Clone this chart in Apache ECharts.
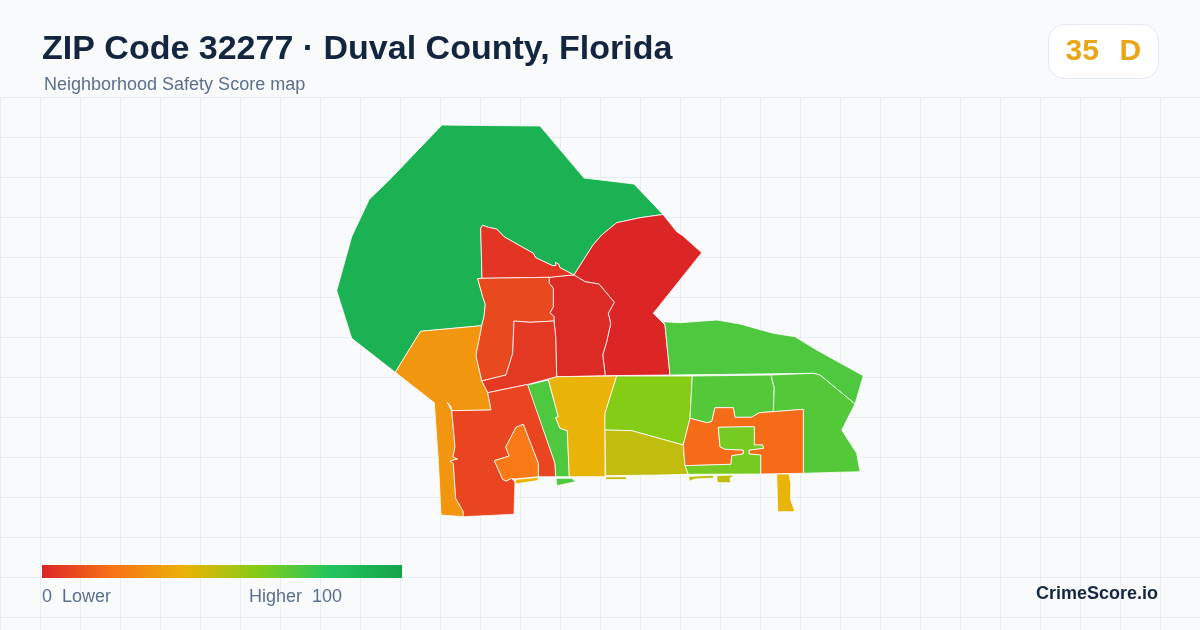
<!DOCTYPE html>
<html>
<head>
<meta charset="utf-8">
<title>ZIP Code 32277</title>
<script src="https://cdn.jsdelivr.net/npm/echarts@6/dist/echarts.min.js"></script>
<style>
html, body { margin: 0; padding: 0; background: #f8fafc; }
#main { width: 1200px; height: 630px; }
</style>
</head>
<body>
<div id="main"></div>
<script>
// score of each neighborhood
var regionNames = ['north', 'eastRed', 'midRed', 'triangle', 'westCore', 'innerRed', 'westOrange', 'southRed',
  'southOrange', 'sliverA', 'greenStrip', 'greenChip', 'yellowBlock', 'limeBlock', 'oliveBlock', 'sliverB', 'sliverC',
  'sliverD', 'eastBand', 'eastMid', 'eastRight', 'orangeRing', 'limeInner', 'yellowTail'];
var regionScores = [91, 0, 1, 4, 9, 5, 31, 8, 22, 40, 71, 71, 40, 60, 48, 48, 48, 48, 71, 70, 70, 18, 63, 40];

// outlines in map units, one ring per neighborhood
var regionRings = [
  [[442,125],[483,125.5],[540,126],[584,178],[634,184],[663,214.5],[640,217.7],[616.7,222.7],[601.7,235],[593,245],[574,275],[560,267.7],[558.5,264],[555.5,262.5],[556,265.5],[552.7,265.7],[535.7,257.7],[533.3,253.3],[504,236.7],[496.7,229],[488.3,227.3],[482.7,225.3],[480.7,228.3],[482,278.3],[477.7,278.7],[482.7,296.7],[485.3,304.3],[484,316.7],[481.7,325.7],[420.5,331.3],[395.3,372.3],[351.7,338.3],[336.7,290.7],[351.7,236.7],[369.3,199.3],[388.3,181]],
  [[663,214.5],[676.7,231.7],[682.7,235.7],[701.7,252.7],[653.3,313.3],[665,325],[670,375],[605.3,375.7],[602.7,355],[606.7,341.7],[610.7,323.3],[608.3,313.3],[614.3,302.3],[599,284],[585,281.7],[574,275],[593,245],[601.7,235],[616.7,222.7],[640,217.7]],
  [[549.3,277.3],[572,275],[574,275],[585,281.7],[599,284],[614.3,302.3],[608.3,313.3],[610.7,323.3],[606.7,341.7],[602.7,355],[605.3,375.7],[556.7,376.8],[555.7,336.7],[554,321],[554,316.7],[550,312.7],[553.3,306.7],[553.3,288.3],[549.3,283.3]],
  [[480.7,228.3],[482.7,225.3],[488.3,227.3],[496.7,229],[504,236.7],[533.3,253.3],[535.7,257.7],[552.7,265.7],[556,265.5],[555.5,262.5],[558.5,264],[560,267.7],[574,275],[572,275],[549.3,277.3],[482,278.3]],
  [[477.7,278.7],[482,278.3],[549.3,277.3],[549.3,283.3],[553.3,288.3],[553.3,306.7],[550,312.7],[554,316.7],[554,321],[530,322.3],[514,321],[512.7,353.3],[506,375],[481.7,381],[476,356.7],[476.2,353.3],[481.7,325.7],[484,316.7],[485.3,304.3],[482.7,296.7]],
  [[514,321],[530,322.3],[554,321],[555.7,336.7],[556.7,376.8],[528.3,384.3],[487.7,392.7],[481.7,381],[506,375],[512.7,353.3]],
  [[420.5,331.3],[481.7,325.7],[476.2,353.3],[476,356.7],[481.7,381],[487.7,392.7],[491,410],[451.7,410.7],[451,406.7],[447.3,402.3],[451.7,410.7],[455,446.7],[453,457],[457.7,459],[450,461],[453.3,463.3],[455.7,498.3],[463.3,511.7],[463.3,516.7],[441,515],[438.3,460],[434.3,402.7],[395.3,372.3]],
  [[491,410],[487.7,392.7],[528.3,384.3],[555,463.3],[555.7,476.7],[538.3,476.7],[538.3,463.3],[523.3,424.3],[516,427.3],[505.7,447.3],[509.3,456],[494.3,460.7],[502.7,479.3],[506,481],[511.7,478.3],[515,482],[514,514.3],[463.3,516.7],[463.3,511.7],[455.7,498.3],[453.3,463.3],[450,461],[457.7,459],[453,457],[455,446.7],[451.7,410.7]],
  [[523.3,424.3],[538.3,463.3],[538.3,476.7],[515,479],[511.7,478.3],[506,481],[502.7,479.3],[494.3,460.7],[509.3,456],[505.7,447.3],[516,427.3]],
  [[515,479.5],[538.3,477.3],[537.7,480.5],[516,484]],
  [[527.7,385],[548.3,380],[558.3,416.7],[555.7,417.7],[560,428.3],[567.3,430.7],[569.3,476.7],[555.7,476.7],[555,463.3]],
  [[556,478.3],[571.7,478.3],[575.7,481.7],[556.7,485.7]],
  [[548.3,379.3],[556.7,376.8],[616.7,376],[605,413.3],[605,476.7],[569.3,476.7],[567.3,430.7],[560,428.3],[555.7,417.7],[558.3,416.7]],
  [[616.7,376],[692.3,376],[690,418.3],[683.3,445],[631.7,430.7],[605,430],[605,413.3]],
  [[605,430],[631.7,430.7],[683.3,445],[685,465.7],[688.3,474.3],[658.3,475],[605.7,475.7]],
  [[605.6,476.8],[626.4,476.8],[626.4,479.6],[605.6,479.6]],
  [[688.6,476.4],[713.6,475.2],[713.6,478.2],[695,479],[689.3,481.2]],
  [[716.7,475.7],[734,475],[730,478.3],[730.7,482.7],[717.3,482.7]],
  [[663.3,321.7],[680,322.7],[716.7,320],[740,324],[773.3,333.3],[795,336.7],[816.7,350],[863.3,375.7],[855,404],[820,375],[813.3,373.3],[670,375],[665,325]],
  [[692.3,376],[771,375],[774.3,388.3],[773.3,411.7],[759.3,412.7],[751.7,417.3],[735,417.3],[733.3,407.7],[715,407.7],[711.7,421.7],[706.7,422.7],[690,418.3]],
  [[771,375],[813.3,373.3],[820,375],[855,404],[841.7,430],[856.7,453.3],[860,471.7],[803.3,473.3],[803.3,409.3],[773.3,411.7],[774.3,388.3]],
  [[690,418.3],[706.7,422.7],[711.7,421.7],[715,407.7],[733.3,407.7],[735,417.3],[751.7,417.3],[759.3,412.7],[773.3,411.7],[803.3,409.3],[803.3,473.3],[760.7,474],[760.7,455],[749,454],[749,450],[763.3,448.3],[762.7,445],[754.3,445],[754.3,426.7],[718.3,427.3],[720,446.7],[725,449.3],[743.3,450],[743.3,454],[731.7,455.7],[731,464.3],[685,465.7],[683.3,445]],
  [[718.3,427.3],[754.3,426.7],[754.3,445],[762.7,445],[763.3,448.3],[749,450],[749,454],[760.7,455],[760.7,474],[688.3,474.3],[685,465.7],[731,464.3],[731.7,455.7],[743.3,454],[743.3,450],[725,449.3],[720,446.7]],
  [[776.7,474],[789,474],[790.7,483.3],[790.7,500],[795,511.7],[777.7,511.7]]
];

var scaleColors = ['#dc2626', '#f97316', '#eab308', '#84cc16', '#22c55e', '#16a34a'];
var gridStep = 40;
var titleText = 'ZIP Code 32277 · Duval County, Florida';
var subtitleText = 'Neighborhood Safety Score map';
var badgeScore = '35';
var badgeGrade = 'D';

var features = [];
var mapData = [];
var minX = 9999, minY = 9999, maxX = 0, maxY = 0;
for (var i = 0; i < regionNames.length; i++) {
  features.push({
    type: 'Feature',
    properties: { name: regionNames[i] },
    geometry: { type: 'Polygon', coordinates: [regionRings[i].concat([regionRings[i][0]])] }
  });
  mapData.push({ name: regionNames[i], value: regionScores[i] });
  for (var j = 0; j < regionRings[i].length; j++) {
    minX = Math.min(minX, regionRings[i][j][0]);
    maxX = Math.max(maxX, regionRings[i][j][0]);
    minY = Math.min(minY, regionRings[i][j][1]);
    maxY = Math.max(maxY, regionRings[i][j][1]);
  }
}
echarts.registerMap('zip32277', { type: 'FeatureCollection', features: features });

function label(text, left, top, size, color, weight) {
  return {
    text: text, left: left, top: top, padding: 0,
    textStyle: { fontFamily: 'Liberation Sans', fontSize: size, color: color, fontWeight: weight || 'normal' }
  };
}

// legend bar, same stops as the visualMap (its own bar has rounded corners)
var barStops = scaleColors.map(function (c, k) {
  return { offset: k / (scaleColors.length - 1), color: c };
});

var myChart = echarts.init(document.getElementById('main'));
var option = {
  backgroundColor: '#f8fafc',
  animation: false,
  title: [
    label(titleText, 42, 33, 34, '#14263f', 'bold'),
    label(subtitleText, 44, 76, 18, '#5b6f8c'),
    label('0  Lower', 42, 588, 18, '#5b6f8c'),
    label('Higher  100', 249, 588, 18, '#5b6f8c'),
    label('CrimeScore.io', 1036, 585, 18, '#14263f', 'bold')
  ],
  grid: { left: 0, right: 0, top: 97, bottom: 0 },
  xAxis: {
    type: 'value', min: 0, max: 1200, interval: gridStep, silent: true,
    axisLine: { show: false }, axisTick: { show: false }, axisLabel: { show: false },
    splitLine: { lineStyle: { color: '#e5eef3', width: 1 } }
  },
  yAxis: {
    type: 'value', min: 0, max: 533, interval: gridStep, inverse: true, silent: true,
    axisLine: { show: false }, axisTick: { show: false }, axisLabel: { show: false },
    splitLine: { lineStyle: { color: '#e5eef3', width: 1 } }
  },
  visualMap: {
    type: 'continuous', min: 0, max: 100, seriesIndex: 0, show: false,
    inRange: { color: scaleColors }
  },
  series: [{
    type: 'map',
    map: 'zip32277',
    projection: { project: function (p) { return p; }, unproject: function (p) { return p; } },
    left: minX, top: minY, width: maxX - minX, height: maxY - minY,
    roam: false, silent: true, selectedMode: false,
    label: { show: false },
    itemStyle: { borderColor: '#ffffff', borderWidth: 0.8 },
    data: mapData
  }],
  graphic: [{
    type: 'rect', left: 42, top: 565, z: 10,
    shape: { width: 360, height: 13 },
    style: { fill: new echarts.graphic.LinearGradient(0, 0, 1, 0, barStops) }
  }, {
    type: 'group', left: 1048, top: 24, z: 10, children: [{
      type: 'rect',
      shape: { x: 0, y: 0, width: 110, height: 54, r: 16 },
      style: { fill: '#ffffff', stroke: '#e2e8f0', lineWidth: 1 }
    }, {
      type: 'text', x: 17, y: 12,
      style: { text: badgeScore, fontFamily: 'Liberation Sans', fontSize: 30, fontWeight: 'bold', fill: '#eaa616' }
    }, {
      type: 'text', x: 71, y: 12,
      style: { text: badgeGrade, fontFamily: 'Liberation Sans', fontSize: 30, fontWeight: 'bold', fill: '#eaa616' }
    }]
  }]
};
myChart.setOption(option);
</script>
</body>
</html>
